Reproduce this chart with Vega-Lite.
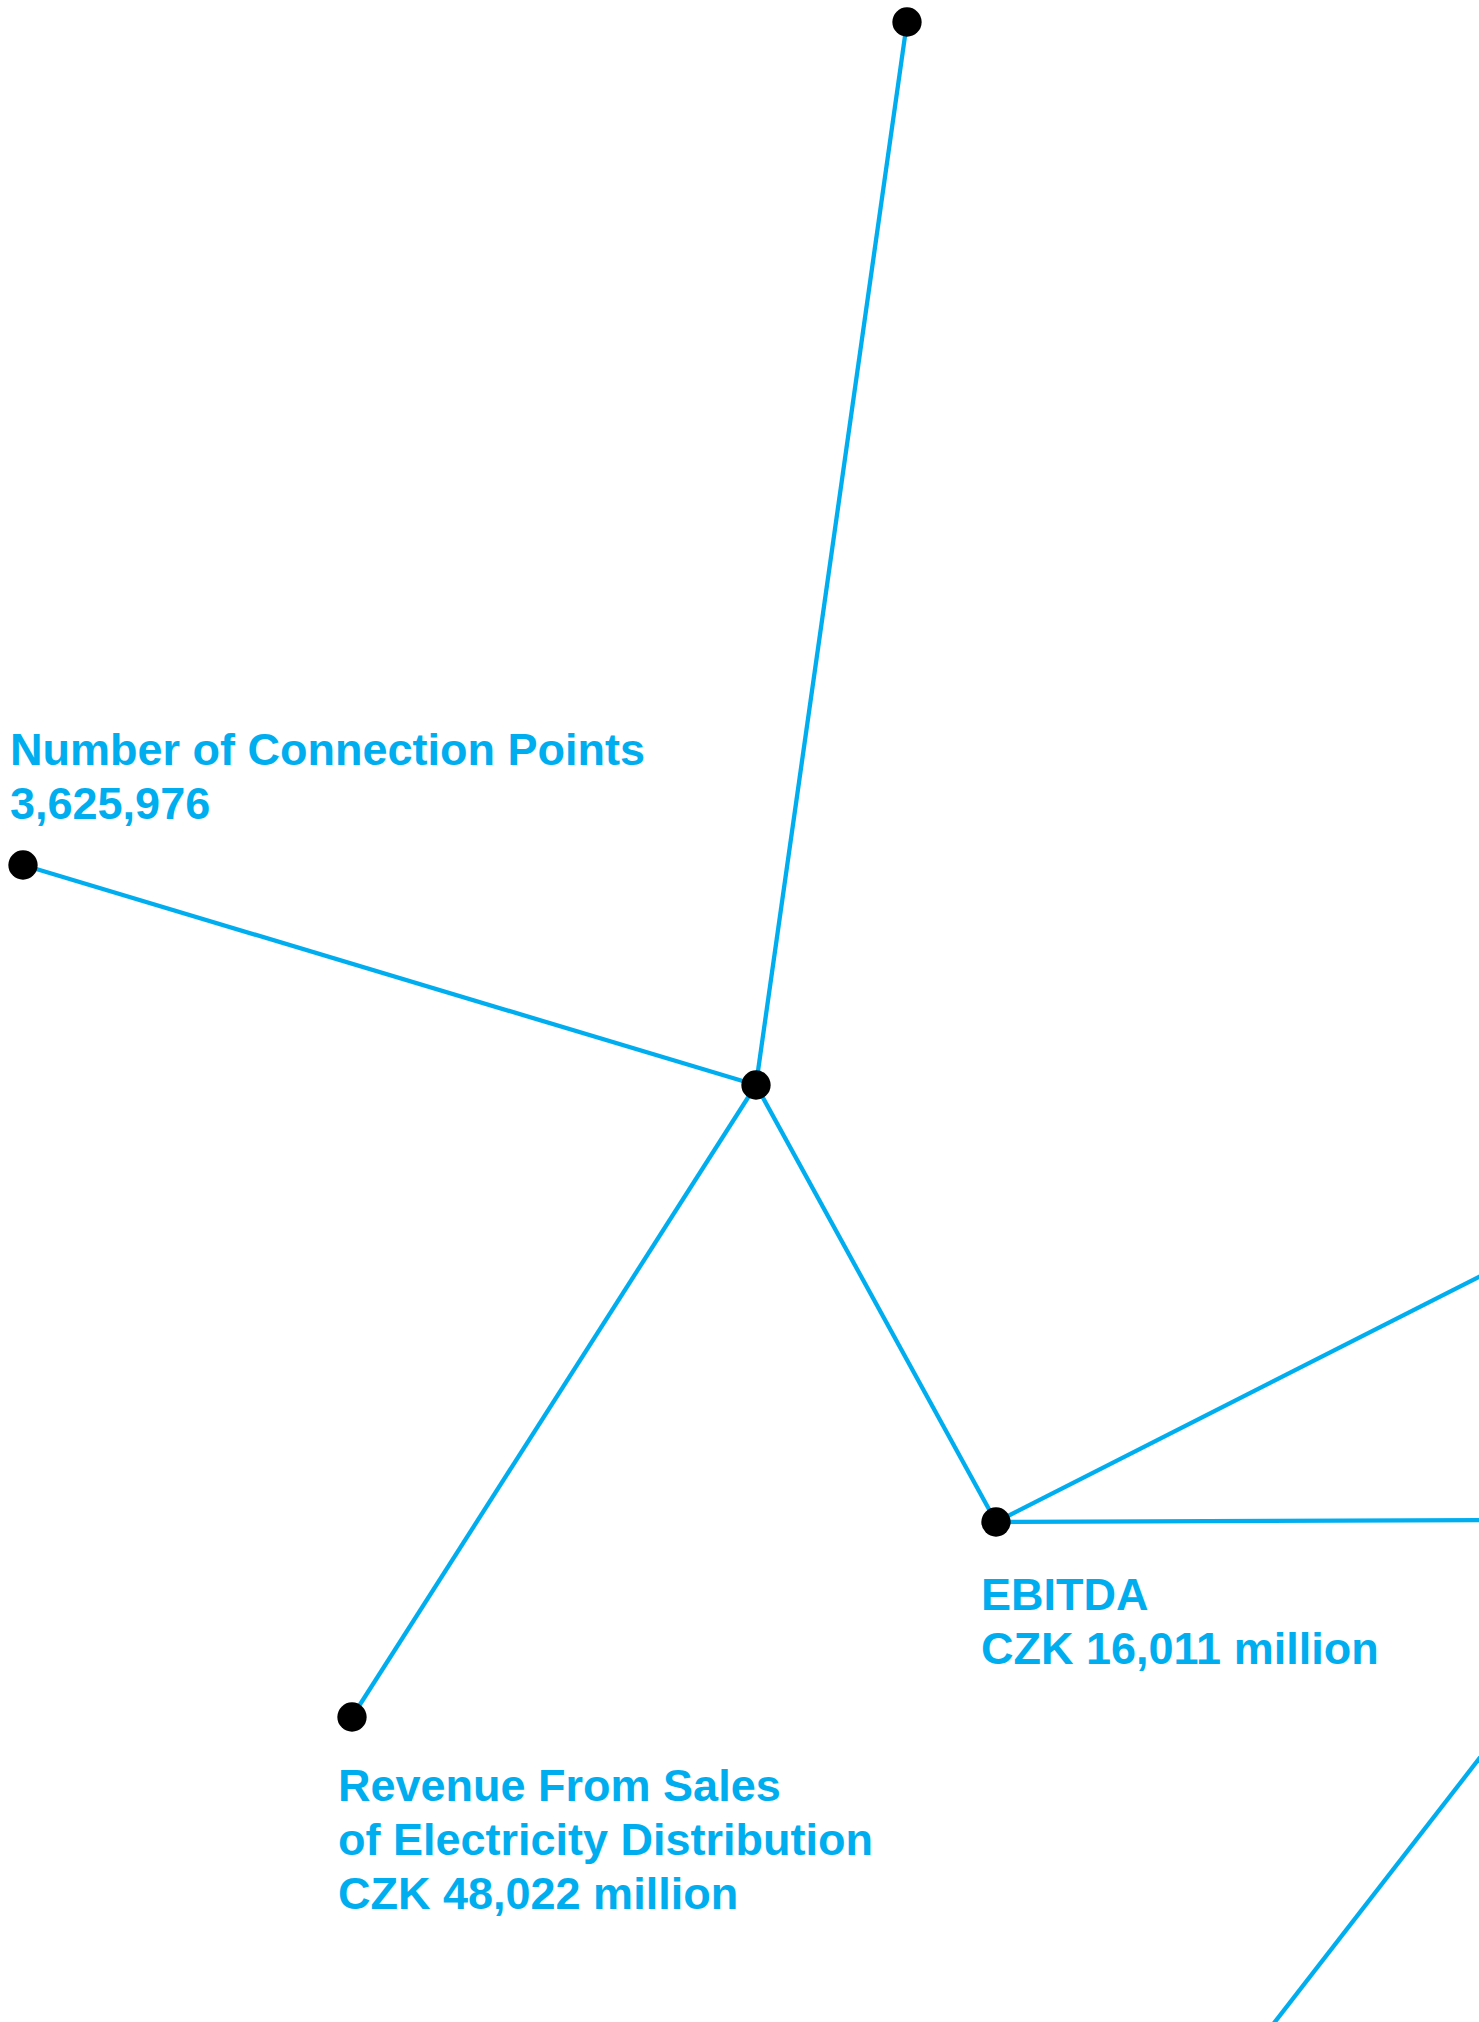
{
  "$schema": "https://vega.github.io/schema/vega-lite/v6.json",
  "width": 1479,
  "height": 2022,
  "padding": 0,
  "autosize": {"type": "none"},
  "background": "white",
  "config": {"view": {"stroke": null}},
  "datasets": {
    "edges": [
      {"from": "Hub", "to": "Top", "x1": 756, "y1": 1085, "x2": 907, "y2": 22},
      {"from": "Hub", "to": "Connection Points", "x1": 756, "y1": 1085, "x2": 23, "y2": 865},
      {"from": "Hub", "to": "Revenue", "x1": 756, "y1": 1085, "x2": 352, "y2": 1717},
      {"from": "Hub", "to": "EBITDA", "x1": 756, "y1": 1085, "x2": 996, "y2": 1522},
      {"from": "EBITDA", "to": "Off right upper", "x1": 996, "y1": 1522, "x2": 1520, "y2": 1256},
      {"from": "EBITDA", "to": "Off right", "x1": 996, "y1": 1522, "x2": 1520, "y2": 1520},
      {"from": "Off right lower", "to": "Off bottom", "x1": 1520, "y1": 1706, "x2": 1250, "y2": 2054}
    ],
    "nodes": [
      {"node": "Top", "x": 907, "y": 22},
      {"node": "Hub", "x": 756, "y": 1085},
      {"node": "Connection Points", "x": 23, "y": 865},
      {"node": "Revenue", "x": 352, "y": 1717},
      {"node": "EBITDA", "x": 996, "y": 1522}
    ],
    "labels": [
      {"label": "Number of Connection Points\n3,625,976", "x": 10, "y": 765},
      {"label": "EBITDA\nCZK 16,011 million", "x": 981, "y": 1610},
      {"label": "Revenue From Sales\nof Electricity Distribution\nCZK 48,022 million", "x": 338, "y": 1801}
    ]
  },
  "layer": [
    {
      "data": {"name": "edges"},
      "mark": {"type": "rule", "color": "#00AEEF", "strokeWidth": 4.3, "clip": true},
      "encoding": {
        "x": {"field": "x1", "type": "quantitative", "scale": {"domain": [0, 1479], "nice": false, "zero": false}, "axis": null},
        "y": {"field": "y1", "type": "quantitative", "scale": {"domain": [0, 2022], "nice": false, "zero": false, "reverse": true}, "axis": null},
        "x2": {"field": "x2"},
        "y2": {"field": "y2"}
      }
    },
    {
      "data": {"name": "nodes"},
      "mark": {"type": "point", "shape": "circle", "filled": true, "color": "black", "opacity": 1, "size": 860},
      "encoding": {
        "x": {"field": "x", "type": "quantitative"},
        "y": {"field": "y", "type": "quantitative"}
      }
    },
    {
      "data": {"name": "labels"},
      "mark": {"type": "text", "align": "left", "baseline": "alphabetic", "font": "Liberation Sans", "fontWeight": "bold", "fontSize": 45, "color": "#00AEEF", "lineBreak": "\n", "lineHeight": 54},
      "encoding": {
        "x": {"field": "x", "type": "quantitative"},
        "y": {"field": "y", "type": "quantitative"},
        "text": {"field": "label"}
      }
    }
  ]
}
